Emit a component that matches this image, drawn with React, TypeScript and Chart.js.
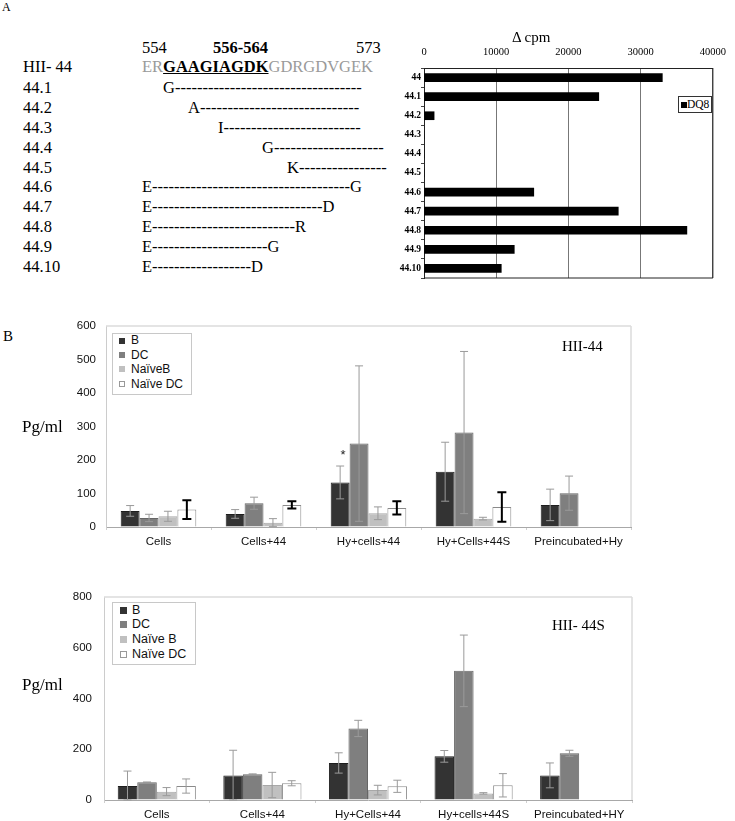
import React, { useEffect, useRef } from 'react';
import { Chart, registerables } from 'chart.js';

Chart.register(...registerables);

// ---------- Panel A data ----------
const peptides = ['44', '44.1', '44.2', '44.3', '44.4', '44.5', '44.6', '44.7', '44.8', '44.9', '44.10'];
const dq8Cpm = [33000, 24200, 1400, 0, 0, 0, 15200, 26900, 36400, 12500, 10700];

const variantNames = ['44.1', '44.2', '44.3', '44.4', '44.5', '44.6', '44.7', '44.8', '44.9', '44.10'];
const variantStarts = [163, 188, 218, 262, 287, 142, 142, 142, 142, 142];
const variantTexts = [
  'G----------------------------------',
  'A-----------------------------',
  'I-------------------------',
  'G--------------------',
  'K----------------',
  'E------------------------------------G',
  'E-------------------------------D',
  'E--------------------------R',
  'E---------------------G',
  'E------------------D',
];

// ---------- Panel B, HII-44 ----------
const conditions1 = ['Cells', 'Cells+44', 'Hy+cells+44', 'Hy+Cells+44S', 'Preincubated+Hy'];
const b1 = [48, 39, 133, 165, 66];
const b1Err = [16, 13, 49, 88, 47];
const dc1 = [27, 71, 249, 282, 101];
const dc1Err = [11, 18, 232, 242, 51];
const naiveB1 = [32, 13, 41, 25, null];
const naiveB1Err = [15, 12, 19, 4, null];
const naiveDC1 = [52, 66, 57, 60, null];
const naiveDC1Err = [28, 11, 20, 44, null];

// ---------- Panel B, HII-44S ----------
const conditions2 = ['Cells', 'Cells+44', 'Hy+Cells+44', 'Hy+cells+44S', 'Preincubated+HY'];
const b2 = [55, 97, 146, 172, 97];
const b2Err = [59, 99, 40, 23, 49];
const dc2 = [70, 101, 282, 509, 184];
const dc2Err = [1, 2, 32, 141, 12];
const naiveB2 = [33, 59, 39, 26, null];
const naiveB2Err = [16, 50, 19, 3, null];
const naiveDC2 = [55, 66, 54, 58, null];
const naiveDC2Err = [28, 10, 24, 46, null];

const SERIF = "'Liberation Serif', 'Times New Roman', serif";
const SANS = "'Liberation Sans', Arial, sans-serif";

const C_B = '#333333';
const C_DC = '#7f7f7f';
const C_NB = '#c0c0c0';
const C_NDC = '#ffffff';

const errorBarPlugin = {
  id: 'errorBars',
  afterDatasetsDraw(chart: any) {
    const { ctx } = chart;
    const yScale = chart.scales.y;
    chart.data.datasets.forEach((ds: any, i: number) => {
      const errs = ds.errors;
      if (!errs) return;
      const meta = chart.getDatasetMeta(i);
      meta.data.forEach((el: any, j: number) => {
        const v = ds.data[j];
        const e = errs[j];
        if (v == null || e == null) return;
        const x = el.x;
        const yT = yScale.getPixelForValue(v + e);
        const yB = yScale.getPixelForValue(Math.max(0, v - e));
        const cap = ds.errCap / 2;
        ctx.save();
        ctx.strokeStyle = ds.errColor;
        ctx.lineWidth = ds.errWidth;
        ctx.beginPath();
        ctx.moveTo(x, yT);
        ctx.lineTo(x, yB);
        ctx.moveTo(x - cap, yT);
        ctx.lineTo(x + cap, yT);
        ctx.moveTo(x - cap, yB);
        ctx.lineTo(x + cap, yB);
        ctx.stroke();
        ctx.restore();
      });
    });
  },
};

const framePlugin = {
  id: 'frameLines',
  afterDraw(chart: any) {
    const opts = chart.options.plugins.frameLines || {};
    const { ctx, chartArea: a } = chart;
    ctx.save();
    ctx.strokeStyle = opts.color || '#000';
    ctx.lineWidth = opts.width || 1;
    ctx.beginPath();
    const sides: string[] = opts.sides || [];
    if (sides.includes('top')) { ctx.moveTo(a.left, a.top); ctx.lineTo(a.right, a.top); }
    if (sides.includes('right')) { ctx.moveTo(a.right, a.top); ctx.lineTo(a.right, a.bottom); }
    if (sides.includes('bottom')) { ctx.moveTo(a.left, a.bottom); ctx.lineTo(a.right, a.bottom); }
    if (sides.includes('left')) { ctx.moveTo(a.left, a.top); ctx.lineTo(a.left, a.bottom); }
    ctx.stroke();
    ctx.restore();
  },
};

function cpmConfig(): any {
  return {
    type: 'bar',
    data: {
      labels: peptides,
      datasets: [{ label: 'DQ8', data: dq8Cpm, backgroundColor: '#000', barThickness: 8 }],
    },
    options: {
      indexAxis: 'y',
      animation: false,
      responsive: false,
      maintainAspectRatio: false,
      layout: { padding: { top: 0, right: 15, bottom: 12, left: 0 } },
      plugins: {
        legend: { display: false },
        tooltip: { enabled: false },
        frameLines: { color: '#222', width: 1, sides: ['right', 'bottom'] },
      },
      scales: {
        x: {
          position: 'top',
          min: 0,
          max: 40000,
          ticks: {
            stepSize: 10000,
            font: { family: SERIF, size: 10.5 },
            color: '#000',
            padding: 9,
            callback: (v: any) => String(v),
          },
          grid: { color: '#777', drawTicks: false },
          border: { color: '#222' },
          afterFit: (s: any) => { s.height = 68; },
        },
        y: {
          ticks: { font: { family: SERIF, size: 9.5, weight: 'bold' }, color: '#000', padding: 0, autoSkip: false },
          grid: { drawOnChartArea: false, tickLength: 3, color: '#444' },
          border: { color: '#222' },
          afterFit: (s: any) => { s.width = 29; },
        },
      },
    },
    plugins: [framePlugin],
  };
}

function groupedConfig(p: {
  labels: string[];
  series: any[];
  max: number;
  step: number;
  yWidth: number;
  xHeight: number;
  padTop: number;
  padRight: number;
  catPct: number;
  yPad: number;
}): any {
  return {
    type: 'bar',
    data: { labels: p.labels, datasets: p.series },
    options: {
      animation: false,
      responsive: false,
      maintainAspectRatio: false,
      layout: { padding: { top: p.padTop, right: p.padRight, bottom: 0, left: 0 } },
      datasets: { bar: { categoryPercentage: p.catPct, barPercentage: 1 } },
      plugins: {
        legend: { display: false },
        tooltip: { enabled: false },
        frameLines: { color: '#dcdcdc', width: 1.5, sides: ['top', 'right'] },
      },
      scales: {
        x: {
          ticks: { font: { family: SANS, size: 11.5 }, color: '#111', padding: 5, maxRotation: 0, autoSkip: false },
          grid: { drawOnChartArea: false, tickLength: 3, color: '#cfcfcf' },
          border: { color: '#a8a8a8' },
          afterFit: (s: any) => { s.height = p.xHeight; },
        },
        y: {
          min: 0,
          max: p.max,
          ticks: { stepSize: p.step, font: { family: SANS, size: 11.5 }, color: '#111', padding: p.yPad },
          grid: { drawOnChartArea: false, drawTicks: false },
          border: { color: '#cccccc' },
          afterFit: (s: any) => { s.width = p.yWidth; },
        },
      },
    },
    plugins: [errorBarPlugin, framePlugin],
  };
}

function series(
  names: string[],
  b: any[], bE: any[], dc: any[], dcE: any[], nb: any[], nbE: any[], ndc: any[], ndcE: any[],
  thickNaiveDC: boolean,
) {
  const thin = { errColor: '#9a9a9a', errWidth: 1, errCap: 8 };
  return [
    { label: names[0], data: b, errors: bE, backgroundColor: C_B, borderColor: '#1e1e1e', borderWidth: 1, ...thin },
    { label: names[1], data: dc, errors: dcE, backgroundColor: C_DC, borderColor: '#666', borderWidth: 1, ...thin },
    { label: names[2], data: nb, errors: nbE, backgroundColor: C_NB, borderColor: '#a8a8a8', borderWidth: 1, ...thin },
    {
      label: names[3], data: ndc, errors: ndcE, backgroundColor: C_NDC, borderColor: '#8a8a8a', borderWidth: 1,
      ...(thickNaiveDC ? { errColor: '#000', errWidth: 2, errCap: 9 } : thin),
    },
  ];
}

function ChartBox({ make, left, top, width, height }: any) {
  const ref = useRef<HTMLCanvasElement | null>(null);
  useEffect(() => {
    const chart = new Chart(ref.current as HTMLCanvasElement, make());
    return () => chart.destroy();
  }, []);
  return (
    <canvas
      ref={ref}
      width={width}
      height={height}
      style={{ position: 'absolute', left, top, width, height, display: 'block' }}
    />
  );
}

function Txt({ x, y, s, f = SERIF, b = false, c = '#000', align = 'left', children, k }: any) {
  const kk = k ?? (f === SERIF ? 0.607 : 0.589);
  const tx = align === 'center' ? 'translateX(-50%)' : align === 'right' ? 'translateX(-100%)' : undefined;
  return (
    <div
      style={{
        position: 'absolute',
        left: x,
        top: y - kk * s,
        fontSize: s,
        lineHeight: `${1.2 * s}px`,
        fontFamily: f,
        fontWeight: b ? 'bold' : 'normal',
        color: c,
        whiteSpace: 'pre',
        transform: tx,
      }}
    >
      {children}
    </div>
  );
}

function Legend({ left, top, w, h, names, colors, firstY, rowH, markerX, markerS, textX, size }: any) {
  return (
    <>
      <div
        style={{
          position: 'absolute', left, top, width: w, height: h,
          border: '1px solid #c8c8c8', boxSizing: 'border-box', background: '#fff',
        }}
      />
      {names.map((n: string, i: number) => (
        <React.Fragment key={n}>
          <div
            style={{
              position: 'absolute', left: markerX, top: firstY + i * rowH - markerS / 2,
              width: markerS, height: markerS, background: colors[i], boxSizing: 'border-box',
              border: colors[i] === '#ffffff' ? '1px solid #999' : 'none',
            }}
          />
          <Txt x={textX} y={firstY + i * rowH} s={size} f={SANS} c="#111">{n}</Txt>
        </React.Fragment>
      ))}
    </>
  );
}

export default function App() {
  const gray = '#9a9a9a';
  return (
    <div style={{ position: 'absolute', left: 0, top: 0, width: 735, height: 821, background: '#fff', overflow: 'hidden' }}>
      {/* Panel A text */}
      <Txt x={2} y={7} s={12}>A</Txt>
      <Txt x={142} y={48} s={16.5}>554</Txt>
      <Txt x={213} y={48} s={16.5} b>556-564</Txt>
      <Txt x={356} y={48} s={16.5}>573</Txt>
      <Txt x={23} y={67} s={16.5}>HII- 44</Txt>
      <div
        style={{
          position: 'absolute', left: 142, top: 67 - 0.607 * 16.5, fontSize: 16.5,
          lineHeight: `${1.2 * 16.5}px`, fontFamily: SERIF, whiteSpace: 'pre',
        }}
      >
        <span style={{ color: gray }}>ER</span>
        <span style={{ color: '#000', fontWeight: 'bold', textDecoration: 'underline' }}>GAAGIAGDK</span>
        <span style={{ color: gray }}>GDRGDVGEK</span>
      </div>
      {variantNames.map((n, i) => (
        <React.Fragment key={n}>
          <Txt x={23} y={88 + i * 19.9} s={16.5}>{n}</Txt>
          <Txt x={variantStarts[i]} y={88 + i * 19.9} s={16.5}>{variantTexts[i]}</Txt>
        </React.Fragment>
      ))}

      {/* Panel A chart */}
      <ChartBox make={cpmConfig} left={395} top={0} width={340} height={290} />
      <Txt x={512} y={37} s={15}>Δ cpm</Txt>
      <div
        style={{
          position: 'absolute', left: 678, top: 96, width: 34, height: 17,
          border: '1px solid #333', boxSizing: 'border-box', background: '#fff',
        }}
      />
      <div style={{ position: 'absolute', left: 681, top: 102, width: 6, height: 6, background: '#000' }} />
      <Txt x={687} y={105} s={11.5}>DQ8</Txt>

      {/* Panel B chart 1 */}
      <Txt x={3} y={336} s={15}>B</Txt>
      <ChartBox
        make={() =>
          groupedConfig({
            labels: conditions1,
            series: series(['B', 'DC', 'NaïveB', 'Naïve DC'], b1, b1Err, dc1, dc1Err, naiveB1, naiveB1Err, naiveDC1, naiveDC1Err, true),
            max: 600, step: 100, yWidth: 106, xHeight: 33, padTop: 26, padRight: 104, catPct: 0.72, yPad: 10,
          })
        }
        left={0}
        top={300}
        width={735}
        height={260}
      />
      <Txt x={22} y={427} s={17}>Pg/ml</Txt>
      <Txt x={562} y={346} s={15}>HII-44</Txt>
      <Txt x={343} y={453} s={13} f={SANS} align="center" c="#222" k={0.43}>*</Txt>
      <Legend
        left={112} top={333} w={80} h={62}
        names={['B', 'DC', 'NaïveB', 'Naïve DC']}
        colors={[C_B, C_DC, C_NB, C_NDC]}
        firstY={340.5} rowH={14.4} markerX={119} markerS={6} textX={131} size={12}
      />

      {/* Panel B chart 2 */}
      <ChartBox
        make={() =>
          groupedConfig({
            labels: conditions2,
            series: series(['B', 'DC', 'Naïve B', 'Naïve DC'], b2, b2Err, dc2, dc2Err, naiveB2, naiveB2Err, naiveDC2, naiveDC2Err, false),
            max: 800, step: 200, yWidth: 104, xHeight: 21, padTop: 27, padRight: 103, catPct: 0.74, yPad: 12,
          })
        }
        left={0}
        top={570}
        width={735}
        height={251}
      />
      <Txt x={22} y={685} s={17}>Pg/ml</Txt>
      <Txt x={552} y={625} s={15}>HII- 44S</Txt>
      <Legend
        left={112} top={602} w={84} h={63}
        names={['B', 'DC', 'Naïve B', 'Naïve DC']}
        colors={[C_B, C_DC, C_NB, C_NDC]}
        firstY={610} rowH={14.7} markerX={120} markerS={7} textX={132} size={12.5}
      />
    </div>
  );
}
